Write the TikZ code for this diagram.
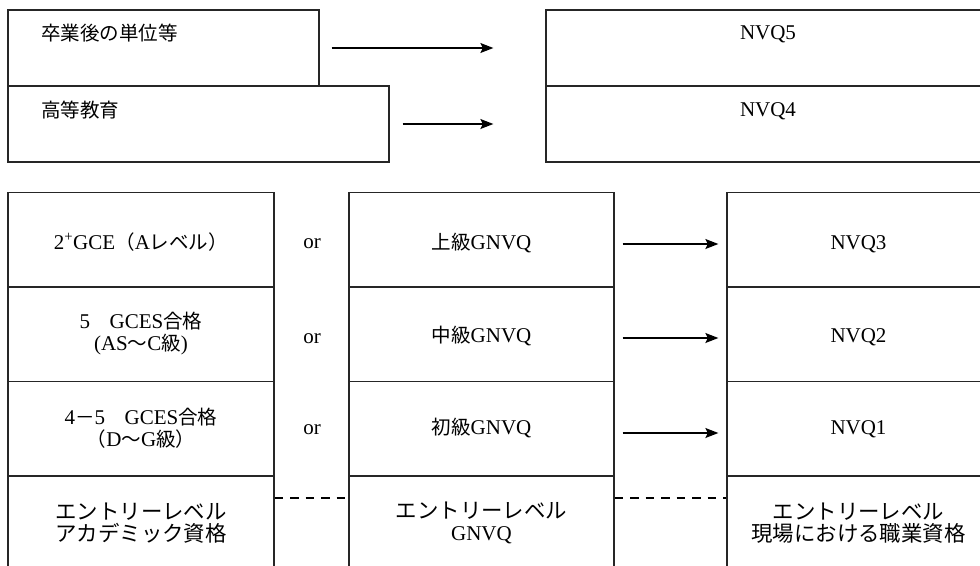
\documentclass[tikz,border=0pt]{standalone}
\usepackage{fontspec}
\setmainfont{Liberation Serif}
\newfontfamily\jp{Noto Sans CJK JP}[Scale=0.93]
\newfontfamily\jpb{Noto Sans CJK JP}[Scale=1.02]
\usetikzlibrary{arrows.meta}
\begin{document}
\begin{tikzpicture}[x=1pt,y=-1pt,
  box/.style={draw=black!85, line width=1.3pt, rectangle, inner sep=0pt, align=center,
    font=\fontsize{21}{22}\selectfont},
  txt/.style={inner sep=0pt, font=\fontsize{21}{22}\selectfont, align=center},
  arr/.style={line width=1.3pt, -{Stealth[length=13pt,width=10pt,inset=2.5pt]}},
  dsh/.style={line width=1.1pt, dash pattern=on 8.5pt off 7pt},
  rowa/.style={text height=24pt, text depth=5pt},
  rowb/.style={text height=21pt, text depth=5pt},
  rowc/.style={text height=16pt, text depth=5pt}]
\useasboundingbox (0,0) rectangle (980,565);
\clip (0,0) rectangle (980,565);
% top section
\node[box, minimum width=311pt, minimum height=76pt] (A) at (163.5,48) {};
\node[box, minimum width=381pt, minimum height=76pt] (B) at (198.5,124) {};
\node[txt, anchor=west] (tA) at (41,33) {\jp 卒業後の単位等};
\node[txt, anchor=west] (tB) at (41,110) {\jp 高等教育};
\node[box, minimum width=444pt, minimum height=76pt] (N5) at (768,48) {};
\node[box, minimum width=444pt, minimum height=76pt] (N4) at (768,124) {};
\node[txt] (tN5) at (768,34) {NVQ5};
\node[txt] (tN4) at (768,111) {NVQ4};
\draw[arr] ([xshift=12pt]A.east) -- ([xshift=-52pt]N5.west);
\draw[arr] ([xshift=13pt]B.east) -- ([xshift=-52pt]N4.west);
% bottom section
\tikzset{lc/.style={box, minimum width=266pt, minimum height=94.7pt},
         mc/.style={box, minimum width=265pt, minimum height=94.7pt},
         rc/.style={box, minimum width=263pt, minimum height=94.7pt}}
\node[lc, rowa] (L1) at (141,239.5) {2\textsuperscript{+}GCE{\jp （}A{\jp レベル）}};
\node[lc] (L2) at (141,334) {5{\jp 　}GCES{\jp 合格}\\(AS{\jp ～}C{\jp 級})};
\node[lc] (L3) at (141,428.5) {4{\jp －}5{\jp 　}GCES{\jp 合格}\\{\jp （}D{\jp ～}G{\jp 級）}};
\node[lc] (L4) at (141,523) {\jpb エントリーレベル\\\jpb アカデミック資格};
\node[mc, rowa] (M1) at (481.5,239.5) {{\jp 上級}GNVQ};
\node[mc, rowb] (M2) at (481.5,334) {{\jp 中級}GNVQ};
\node[mc, rowc] (M3) at (481.5,428.5) {{\jp 初級}GNVQ};
\node[mc] (M4) at (481.5,523) {{\jpb エントリーレベル}\\GNVQ};
\node[rc, rowa] (R1) at (858.5,239.5) {NVQ3};
\node[rc, rowb] (R2) at (858.5,334) {NVQ2};
\node[rc, rowc] (R3) at (858.5,428.5) {NVQ1};
\node[rc] (R4) at (858.5,523) {\jpb エントリーレベル\\\jpb 現場における職業資格};
\node[txt] (or1) at (312,244) {or};
\node[txt] (or2) at (312,339) {or};
\node[txt] (or3) at (312,430) {or};
\draw[arr] ([shift={(8pt,-4.5pt)}]M1.east) -- ([shift={(-8pt,-4.5pt)}]R1.west);
\draw[arr] ([shift={(8pt,-4pt)}]M2.east) -- ([shift={(-8pt,-4pt)}]R2.west);
\draw[arr] ([shift={(8pt,-4.5pt)}]M3.east) -- ([shift={(-8pt,-4.5pt)}]R3.west);
\draw[dsh] ([yshift=25pt]L4.east) -- ([yshift=25pt]M4.west);
\draw[dsh] ([yshift=25pt]M4.east) -- ([yshift=25pt]R4.west);
\end{tikzpicture}
\end{document}
